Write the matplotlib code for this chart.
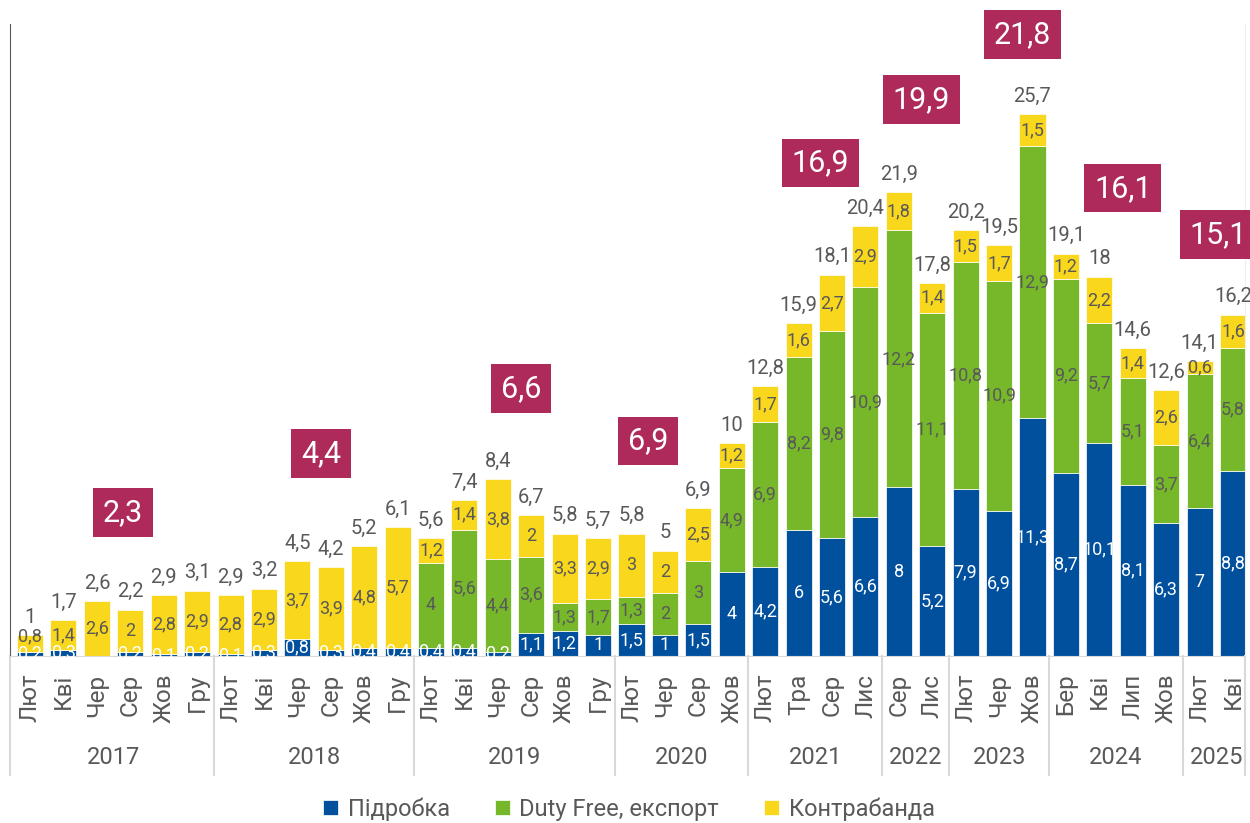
import matplotlib.pyplot as plt
from matplotlib.transforms import blended_transform_factory

plt.rcParams['font.family'] = ['Roboto', 'DejaVu Sans']

months = ["Лют", "Кві", "Чер", "Сер", "Жов", "Гру",
          "Лют", "Кві", "Чер", "Сер", "Жов", "Гру",
          "Лют", "Кві", "Чер", "Сер", "Жов", "Гру",
          "Лют", "Чер", "Сер", "Жов",
          "Лют", "Тра", "Сер", "Лис",
          "Сер", "Лис",
          "Лют", "Чер", "Жов",
          "Бер", "Кві", "Лип", "Жов",
          "Лют", "Кві"]
years = ["2017"] * 6 + ["2018"] * 6 + ["2019"] * 6 + ["2020"] * 4 + ["2021"] * 4 \
    + ["2022"] * 2 + ["2023"] * 3 + ["2024"] * 4 + ["2025"] * 2

pidrobka = [0.2, 0.3, 0, 0.2, 0.1, 0.2,
            0.1, 0.3, 0.8, 0.3, 0.4, 0.4,
            0.4, 0.4, 0.2, 1.1, 1.2, 1,
            1.5, 1, 1.5, 4,
            4.2, 6, 5.6, 6.6,
            8, 5.2,
            7.9, 6.9, 11.3,
            8.7, 10.1, 8.1, 6.3,
            7, 8.8]
duty_free = [0, 0, 0, 0, 0, 0,
             0, 0, 0, 0, 0, 0,
             4, 5.6, 4.4, 3.6, 1.3, 1.7,
             1.3, 2, 3, 4.9,
             6.9, 8.2, 9.8, 10.9,
             12.2, 11.1,
             10.8, 10.9, 12.9,
             9.2, 5.7, 5.1, 3.7,
             6.4, 5.8]
kontrabanda = [0.8, 1.4, 2.6, 2, 2.8, 2.9,
               2.8, 2.9, 3.7, 3.9, 4.8, 5.7,
               1.2, 1.4, 3.8, 2, 3.3, 2.9,
               3, 2, 2.5, 1.2,
               1.7, 1.6, 2.7, 2.9,
               1.8, 1.4,
               1.5, 1.7, 1.5,
               1.2, 2.2, 1.4, 2.6,
               0.6, 1.6]
totals = [1, 1.7, 2.6, 2.2, 2.9, 3.1,
          2.9, 3.2, 4.5, 4.2, 5.2, 6.1,
          5.6, 7.4, 8.4, 6.7, 5.8, 5.7,
          5.8, 5, 6.9, 10,
          12.8, 15.9, 18.1, 20.4,
          21.9, 17.8,
          20.2, 19.5, 25.7,
          19.1, 18, 14.6, 12.6,
          14.1, 16.2]

year_avg = [2.3, 4.4, 6.6, 6.9, 16.9, 19.9, 21.8, 16.1, 15.1]
# where the yearly boxes sit (bar index, height on value scale)
box_x = [2.78, 8.71, 14.7, 18.5, 23.65, 26.68, 29.7, 32.7, 35.57]
box_y = [6.8, 9.6, 12.7, 10.2, 23.4, 26.4, 29.5, 22.2, 20.0]

BLUE = "#00509E"
GREEN = "#76B82A"
YELLOW = "#F9D71C"
CRIMSON = "#AE2A5A"
GREY = "#595959"
LIGHT = "#D9D9D9"


def fmt(v):
    return f"{v:g}".replace(".", ",")


fig = plt.figure(figsize=(12.5, 8.23), dpi=100)
ax = fig.add_axes([0.008, 0.203, 0.988, 0.768])

x = list(range(len(months)))
w = 0.78
bottoms2 = pidrobka
bottoms3 = [a + b for a, b in zip(pidrobka, duty_free)]

b1 = ax.bar(x, pidrobka, w, color=BLUE, label="Підробка", edgecolor="white", linewidth=0.5)
b2 = ax.bar(x, duty_free, w, bottom=bottoms2, color=GREEN, label="Duty Free, експорт",
            edgecolor="white", linewidth=0.5)
b3 = ax.bar(x, kontrabanda, w, bottom=bottoms3, color=YELLOW, label="Контрабанда",
            edgecolor="white", linewidth=0.5)

seg_fs = 13
for xi in x:
    p, d, k = pidrobka[xi], duty_free[xi], kontrabanda[xi]
    if p > 0:
        ax.annotate(fmt(p), (xi, p / 2), ha="center", va="center",
                    color="white", fontsize=seg_fs)
    if d > 0:
        ax.annotate(fmt(d), (xi, p + d / 2), ha="center", va="center",
                    color=GREY, fontsize=seg_fs)
    if k > 0:
        # push a thin top segment's label up so it clears the one below
        dy = 5 if (k < 1 and p + d < 0.5) else 0
        ax.annotate(fmt(k), (xi, p + d + k / 2), xytext=(0, dy), textcoords="offset points",
                    ha="center", va="center", color=GREY, fontsize=seg_fs)
    ax.annotate(fmt(totals[xi]), (xi, p + d + k), xytext=(0, 6), textcoords="offset points",
                ha="center", va="bottom", fontsize=14.5, color=GREY)

for bx, by, v in zip(box_x, box_y, year_avg):
    ax.text(bx, by, fmt(v), ha="center", va="center", fontsize=22, color="white",
            bbox=dict(boxstyle="square,pad=0.32", facecolor=CRIMSON, edgecolor="none"),
            clip_on=False)

ax.set_xlim(-0.6, 36.36)
ax.set_ylim(0, 30)
ax.set_yticks([])
ax.set_xticks([])
ax.spines["top"].set_visible(False)
ax.spines["left"].set_color(GREY)
ax.spines["right"].set_color("#EEEEEE")
ax.spines["bottom"].set_color(LIGHT)

# two-level category axis
trans = blended_transform_factory(ax.transData, ax.transAxes)
for xi, m in zip(x, months):
    ax.text(xi, -0.028, m, transform=trans, rotation=90, ha="center", va="top",
            fontsize=17.5, color=GREY)

groups = []
for i, y in enumerate(years):
    if not groups or groups[-1][0] != y:
        groups.append([y, i, i])
    else:
        groups[-1][2] = i
seps = [-0.6] + [g[2] + 0.5 for g in groups]
seps[-1] = 36.36
for s in seps:
    ax.plot([s, s], [0, -0.188], transform=trans, color=LIGHT, linewidth=1.5, clip_on=False)
for y, i0, i1 in groups:
    ax.text((i0 + i1) / 2, -0.16, y, transform=trans, ha="center", va="center",
            fontsize=17, color=GREY)

fig.legend(handles=[b1, b2, b3], loc="center", bbox_to_anchor=(0.503, 0.017), ncol=3,
           frameon=False, fontsize=17, labelcolor=GREY, handlelength=0.65,
           handleheight=0.65, handletextpad=0.4, columnspacing=1.9)

fig.savefig("out.png", dpi=100)
